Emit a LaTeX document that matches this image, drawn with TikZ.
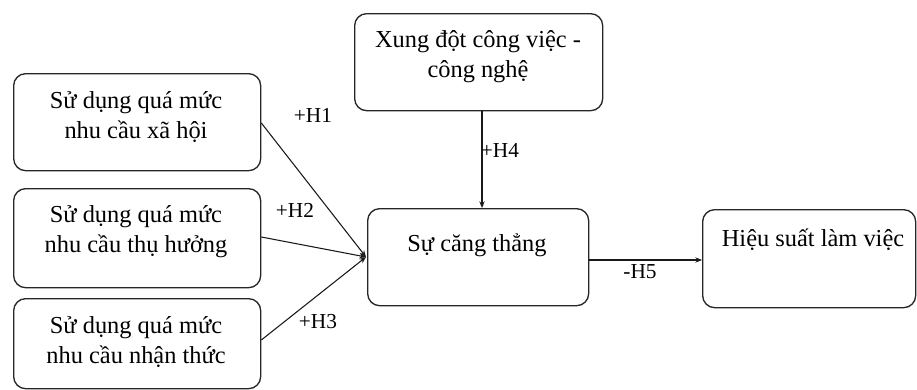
\documentclass[tikz,border=0pt]{standalone}
\usepackage{fontspec}
\setmainfont{Liberation Serif}
\usetikzlibrary{arrows.meta,calc}

\tikzset{
  box/.style={draw=black!85, line width=1pt, rounded corners=9pt, inner sep=0pt},
  boxtext/.style={align=center, inner sep=0pt, font=\fontsize{18.3}{22.5}\selectfont},
  hyp/.style={inner sep=0pt, font=\fontsize{16}{18}\selectfont},
  link/.style={draw=black!90, line width=0.8pt, -{Stealth[length=5pt,width=4pt]}},
}

\begin{document}
\begin{tikzpicture}[x=0.75pt, y=-0.75pt]
  \useasboundingbox (0,0) rectangle (917,389);

  % boxes (placed by their top-left corners, pixel units)
  \node[box, minimum width=247*0.75pt, minimum height=97*0.75pt, anchor=north west] (soc) at (13,73) {};
  \node[box, minimum width=247*0.75pt, minimum height=99*0.75pt, anchor=north west] (hed) at (13,188) {};
  \node[box, minimum width=247*0.75pt, minimum height=90*0.75pt, anchor=north west] (cog) at (13,298) {};
  \node[box, minimum width=248*0.75pt, minimum height=97*0.75pt, anchor=north west] (conf) at (354,13) {};
  \node[box, minimum width=221*0.75pt, minimum height=97*0.75pt, anchor=north west] (stress) at (367,208) {};
  \node[box, minimum width=213*0.75pt, minimum height=98*0.75pt, anchor=north west] (perf) at (702,209) {};

  % box texts
  \node[boxtext] (tsoc) at (136,117) {Sử dụng quá mức\\nhu cầu xã hội};
  \node[boxtext] (thed) at (136,232) {Sử dụng quá mức\\nhu cầu thụ hưởng};
  \node[boxtext] (tcog) at (136,342) {Sử dụng quá mức\\nhu cầu nhận thức};
  \node[boxtext] (tconf) at (478,57) {Xung đột công việc -\\công nghệ};
  \node[boxtext] (tstress) at (477,245) {Sự căng thẳng};
  \node[boxtext] (tperf) at (813,240) {Hiệu suất làm việc};

  % connectors
  \coordinate (meet) at (366,257);
  \draw[link] (soc.east |- 0,123) -- (meet);
  \draw[link] (hed.east |- 0,237) -- (meet);
  \draw[link] (cog.east |- 0,340) -- (meet);
  \draw[link] (conf.south -| 482,0) -- (stress.north -| 482,0);
  \draw[link] (stress.east |- 0,260) -- (perf.west |- 0,260);

  % hypothesis labels
  \node[hyp] (h1) at (313,115) {+H1};
  \node[hyp] (h2) at (295,210) {+H2};
  \node[hyp] (h3) at (318,322) {+H3};
  \node[hyp] (h4) at (500,150) {+H4};
  \node[hyp] (h5) at (640,272) {-H5};
\end{tikzpicture}
\end{document}
